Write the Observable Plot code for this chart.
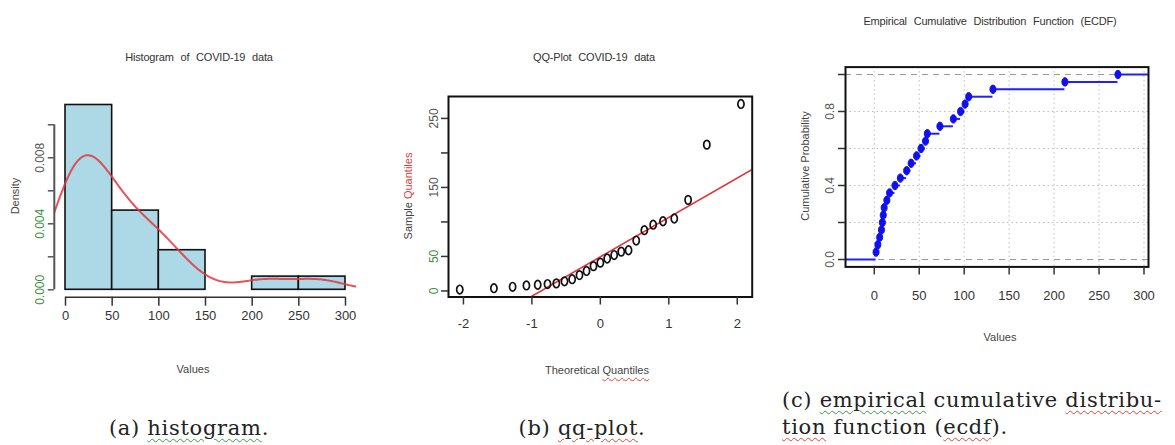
<!DOCTYPE html>
<html>
<head>
<meta charset="utf-8">
<script src="https://cdn.jsdelivr.net/npm/d3@7"></script>
<script src="https://cdn.jsdelivr.net/npm/@observablehq/plot@0.6"></script>
<style>
  html, body { margin: 0; padding: 0; background: #fff; }
  #page { position: relative; width: 1175px; height: 445px; overflow: hidden;
          font-family: "Liberation Sans", Arial, sans-serif; }
  .panel { position: absolute; top: 0; }
  .lbl { position: absolute; white-space: nowrap; color: #444; transform: translate(-50%, -50%); }
  .title { font-size: 11px; word-spacing: 4px; color: #333; letter-spacing: -0.2px; }
  .axt { font-size: 11px; color: #444; }
  .rot { transform: translate(-50%, -50%) rotate(-90deg); }
  .cap { position: absolute; white-space: nowrap; font-family: "DejaVu Serif", "Liberation Serif", serif;
         font-size: 21px; letter-spacing: 0.7px; color: #222; transform: translateY(-50%); }
  .wr { text-decoration: underline wavy #e0453a; text-decoration-thickness: 1px; text-underline-offset: 3px; }
  .wg { text-decoration: underline wavy #3d9a3d; text-decoration-thickness: 1px; text-underline-offset: 3px; }
</style>
</head>
<body>
<div id="page">
  <div id="hist" class="panel" style="left:0px"></div>
  <div id="qq" class="panel" style="left:390px"></div>
  <div id="ecdf" class="panel" style="left:780px"></div>

  <div class="lbl title" style="left:199px;top:57px">Histogram of COVID-19 data</div>
  <div class="lbl title" style="left:594px;top:57px">QQ-Plot COVID-19 data</div>
  <div class="lbl title" style="left:990px;top:21px">Empirical Cumulative Distribution Function (ECDF)</div>

  <div class="lbl axt" style="left:193px;top:369px">Values</div>
  <div class="lbl axt" style="left:597px;top:370px">Theoretical <span class="wr">Quantiles</span></div>
  <div class="lbl axt" style="left:1000px;top:337px">Values</div>

  <div class="lbl axt rot" style="left:15px;top:196px">Density</div>
  <div class="lbl axt rot" style="left:408px;top:196px">Sample <span style="color:#d9403a">Quantiles</span></div>
  <div class="lbl axt rot" style="left:805px;top:166px">Cumulative Probability</div>

  <div class="cap" style="left:189px;top:428px;transform:translate(-50%,-50%)">(a) <span class="wg">histogram</span>.</div>
  <div class="cap" style="left:582px;top:428px;transform:translate(-50%,-50%)">(b) <span class="wr">qq-plot</span>.</div>
  <div class="cap" style="left:782px;top:400px">(c) <span class="wg">empirical</span> cumulative <span class="wr">distribu-</span></div>
  <div class="cap" style="left:782px;top:427px"><span class="wr">tion</span> function (<span class="wr">ecdf</span>).</div>
</div>

<script>
// Daily COVID-19 observations (sorted)
const values = [2, 4, 6, 8, 9, 10, 11, 14, 17, 23, 29, 36, 41, 47, 52, 57, 59, 73, 88, 96, 101, 105, 132, 212, 271];

// Histogram breaks and y-axis ticks
const histBreaks = [0, 50, 100, 150, 200, 250, 300];
const histTicksY = [0, 0.002, 0.004, 0.006, 0.008, 0.010];
const histLabelsGreen = [0, 0.004];
const histLabelsDark = [0.008];

// Normal quantiles for ppoints(25)
const qqTheoretical = [-2.054, -1.555, -1.282, -1.080, -0.915, -0.772, -0.643, -0.524, -0.412, -0.305,
  -0.202, -0.100, 0, 0.100, 0.202, 0.305, 0.412, 0.524, 0.643, 0.772, 0.915, 1.080, 1.282, 1.555, 2.054];
const qqTicksX = [-2, -1, 0, 1, 2];
const qqTicksY = [0, 50, 100, 150, 200, 250];
const qqLabelsGreen = [0, 50];
const qqLabelsDark = [150, 250];

// ECDF axis ticks
const ecdfTicksX = [0, 50, 100, 150, 200, 250, 300];
const ecdfTicksY = [0, 0.2, 0.4, 0.6, 0.8, 1];
const ecdfGridY = [0.2, 0.4, 0.6, 0.8];
const ecdfLabelsY = [0, 0.4, 0.8];

const n = values.length;
const pad4 = ([a, b]) => [a - 0.04 * (b - a), b + 0.04 * (b - a)];
const ink = "#333";
const fontFamily = '"Liberation Sans", Arial, sans-serif';

// Vertically stretched circle used for the point markers
const ellipse = {
  draw(ctx, size) {
    const r = Math.sqrt(size / Math.PI), rx = r * 0.72, ry = r, k = 0.5523;
    ctx.moveTo(rx, 0);
    ctx.bezierCurveTo(rx, ry * k, rx * k, ry, 0, ry);
    ctx.bezierCurveTo(-rx * k, ry, -rx, ry * k, -rx, 0);
    ctx.bezierCurveTo(-rx, -ry * k, -rx * k, -ry, 0, -ry);
    ctx.bezierCurveTo(rx * k, -ry, rx, -ry * k, rx, 0);
    ctx.closePath();
  }
};

// ---------- (a) histogram with kernel density ----------
const bins = d3.bin().domain([histBreaks[0], histBreaks[histBreaks.length - 1]]).thresholds(histBreaks)(values)
  .map(b => ({x1: b.x0, x2: b.x1, density: b.length / (n * (b.x1 - b.x0))}))
  .filter(b => b.density > 0);

const sd = d3.deviation(values);
const iqr = d3.quantile(values, 0.75) - d3.quantile(values, 0.25);
const bw = 0.9 * Math.min(sd, iqr / 1.34) * Math.pow(n, -0.2);
const histX = pad4([histBreaks[0], histBreaks[histBreaks.length - 1]]);
const histY = pad4([0, d3.max(bins, b => b.density)]);
const kde = d3.range(histX[0], histX[1] + 0.5, 1).map(x => ({
  x,
  y: d3.sum(values, v => Math.exp(-0.5 * ((x - v) / bw) ** 2)) / (n * bw * Math.sqrt(2 * Math.PI))
}));

const histPlot = Plot.plot({
  width: 390, height: 400,
  marginLeft: 53.8, marginRight: 33.8, marginTop: 97.1, marginBottom: 103.3,
  x: {domain: histX}, y: {domain: histY},
  style: {fontFamily, fontSize: "13px", color: ink, background: "transparent"},
  marks: [
    Plot.rectY(bins, {x1: "x1", x2: "x2", y: "density", fill: "#add8e6", stroke: "#111", strokeWidth: 1.6}),
    Plot.line(kde, {x: "x", y: "y", stroke: "#e0363d", strokeWidth: 2, strokeOpacity: 0.85, clip: true}),
    Plot.ruleY([histY[0]], {x1: histBreaks[0], x2: histBreaks[histBreaks.length - 1], stroke: ink, strokeWidth: 1.5}),
    Plot.axisX(histBreaks, {tickSize: 9, tickPadding: 5, tickFormat: d => String(d), color: ink, strokeWidth: 1.5, label: null}),
    Plot.ruleX([histX[0]], {y1: histTicksY[0], y2: histTicksY[histTicksY.length - 1], stroke: "#555", strokeWidth: 2}),
    Plot.axisY(histTicksY, {tickSize: 6, tickFormat: () => "", color: "#555", strokeWidth: 1.5, label: null}),
    Plot.axisY(histLabelsGreen, {tickSize: 0, tickPadding: 10, tickRotate: -90, tickFormat: d3.format(".3f"),
      fontSize: 12, fill: "#3d8f3d", label: null}),
    Plot.axisY(histLabelsDark, {tickSize: 0, tickPadding: 10, tickRotate: -90, tickFormat: d3.format(".3f"),
      fontSize: 12, fill: "#555", label: null})
  ]
});
document.getElementById("hist").append(histPlot);

// ---------- (b) normal QQ-plot ----------
const qqData = values.map((v, i) => ({x: qqTheoretical[i], y: v}));
const qqX = pad4(d3.extent(qqTheoretical));
const qqY = pad4(d3.extent(values));
// reference line through the first and third quartiles
const q1 = d3.quantile(values, 0.25), q3 = d3.quantile(values, 0.75), z = 0.6744898;
const slope = (q3 - q1) / (2 * z), intercept = q1 + slope * z;
const qqLine = qqX.map(x => ({x, y: intercept + slope * x}));

const qqPlot = Plot.plot({
  width: 390, height: 400,
  marginLeft: 58, marginRight: 28.3, marginTop: 96, marginBottom: 103.5,
  x: {domain: qqX}, y: {domain: qqY},
  style: {fontFamily, fontSize: "13px", color: ink, background: "transparent"},
  marks: [
    Plot.line(qqLine, {x: "x", y: "y", stroke: "#e0363d", strokeWidth: 1.6, clip: true}),
    Plot.dot(qqData, {x: "x", y: "y", symbol: ellipse, r: 4.3, stroke: "#111", strokeWidth: 1.7}),
    Plot.frame({stroke: "#111", strokeWidth: 2}),
    Plot.axisX(qqTicksX, {tickSize: 8, tickPadding: 14, tickFormat: d => String(d), color: ink, strokeWidth: 1.5, label: null}),
    Plot.axisY(qqTicksY, {tickSize: 7, tickFormat: () => "", color: ink, strokeWidth: 1.5, label: null}),
    Plot.axisY(qqLabelsGreen, {tickSize: 0, tickPadding: 11, tickRotate: -90, tickFormat: d => String(d),
      fontSize: 12, fill: "#3d8f3d", label: null}),
    Plot.axisY(qqLabelsDark, {tickSize: 0, tickPadding: 11, tickRotate: -90, tickFormat: d => String(d),
      fontSize: 12, fill: "#555", label: null})
  ]
});
document.getElementById("qq").append(qqPlot);

// ---------- (c) empirical cumulative distribution function ----------
const knots = Array.from(new Set(values)).sort(d3.ascending);
const dr = Math.max(0.08 * (knots[knots.length - 1] - knots[0]), d3.median(d3.pairs(knots, (a, b) => b - a)));
const ecdfX = pad4([knots[0] - dr, knots[knots.length - 1] + dr]);
const ecdfY = pad4([0, 1]);
const ecdfPts = knots.map(k => ({x: k, y: values.filter(v => v <= k).length / n}));
const ecdfSteps = [{x1: ecdfX[0], x2: knots[0], y: 0}].concat(
  ecdfPts.map((p, i) => ({x1: p.x, x2: i + 1 < ecdfPts.length ? ecdfPts[i + 1].x : ecdfX[1], y: p.y})));

const ecdfPlot = Plot.plot({
  width: 395, height: 400,
  marginLeft: 65, marginRight: 27, marginTop: 66.6, marginBottom: 133.6,
  x: {domain: ecdfX}, y: {domain: ecdfY},
  style: {fontFamily, fontSize: "13px", color: ink, background: "transparent"},
  marks: [
    Plot.gridX(ecdfTicksX, {stroke: "#bdbdbd", strokeOpacity: 1, strokeDasharray: "1.5,3"}),
    Plot.gridY(ecdfGridY, {stroke: "#bdbdbd", strokeOpacity: 1, strokeDasharray: "1.5,3"}),
    Plot.ruleY([0, 1], {stroke: "#9a9a9a", strokeDasharray: "6,5", strokeWidth: 1.2}),
    Plot.ruleY(ecdfSteps, {x1: "x1", x2: "x2", y: "y", stroke: "#1f1fff", strokeWidth: 2}),
    Plot.dot(ecdfPts, {x: "x", y: "y", symbol: ellipse, r: 4.2, fill: "#1010ee", stroke: "#1010ee", strokeWidth: 1}),
    Plot.frame({stroke: "#111", strokeWidth: 2}),
    Plot.axisX(ecdfTicksX, {tickSize: 8, tickPadding: 16, tickFormat: d => String(d), color: ink, strokeWidth: 1.5, label: null}),
    Plot.axisY(ecdfTicksY, {tickSize: 7, tickFormat: () => "", color: ink, strokeWidth: 1.5, label: null}),
    Plot.axisY(ecdfLabelsY, {tickSize: 0, tickPadding: 12, tickRotate: -90, tickFormat: d3.format(".1f"),
      fontSize: 12, fill: "#555", label: null})
  ]
});
document.getElementById("ecdf").append(ecdfPlot);
</script>
</body>
</html>
